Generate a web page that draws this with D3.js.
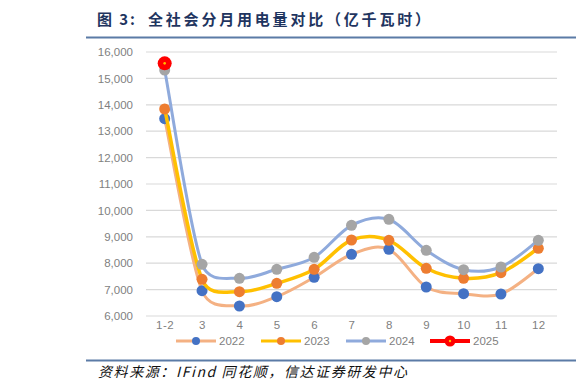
<!DOCTYPE html>
<html><head><meta charset="utf-8">
<script src="https://cdn.jsdelivr.net/npm/d3@7"></script>
<style>
html,body{margin:0;padding:0;background:#fff;}
svg{display:block;}
</style></head>
<body>
<svg id="c" width="588" height="391"></svg>
<script>
const categories = ["1-2","3","4","5","6","7","8","9","10","11","12"];
const seriesNames = ["2022","2023","2024","2025"];
const values2022 = [13474,6958,6379,6731,7466,8337,8526,7098,6845,6833,7792];
const values2023 = [13841,7390,6921,7237,7768,8879,8867,7807,7428,7642,8564];
const values2024 = [15318,7958,7428,7769,8223,9436,9663,8489,7754,7856,8867];
const values2025 = [15571];
const yTicks = [6000,7000,8000,9000,10000,11000,12000,13000,14000,15000,16000];
const titleLabel = "图 3:";
const titleText = "全社会分月用电量对比（亿千瓦时）";
const sourceText = "资料来源：IFind 同花顺，信达证券研发中心";

const series = [
  {name:"2022", values: values2022, line:"#F4B183", marker:"#4472C4", lw:3, r:5.5},
  {name:"2023", values: values2023, line:"#FFC000", marker:"#ED7D31", lw:3.5, r:5.5},
  {name:"2024", values: values2024, line:"#8FAADC", marker:"#A5A5A5", lw:3, r:5.5},
  {name:"2025", values: values2025, line:"#FF0000", marker:"#FF0000", lw:4, r:7, dot:"#FFC000"}
];

// Excel-like smoothed curve: Catmull-Rom tangents (1/6), clamped to half of each segment
function excelSmooth(context) {
  let pts = [];
  return {
    areaStart(){}, areaEnd(){},
    lineStart(){ pts = []; },
    point(x, y){ pts.push([+x, +y]); },
    lineEnd(){
      const n = pts.length;
      if (!n) return;
      context.moveTo(pts[0][0], pts[0][1]);
      if (n === 1) return;
      const tan = pts.map((p, i) => {
        const a = pts[Math.max(0, i - 1)], b = pts[Math.min(n - 1, i + 1)];
        return [(b[0] - a[0]) / 6, (b[1] - a[1]) / 6];
      });
      const clamp = (t, segLen) => {
        const l = Math.hypot(t[0], t[1]), m = 0.5 * segLen;
        return l > m && l > 0 ? [t[0] * m / l, t[1] * m / l] : t;
      };
      for (let i = 0; i < n - 1; i++) {
        const p = pts[i], q = pts[i + 1];
        const len = Math.hypot(q[0] - p[0], q[1] - p[1]);
        const t1 = clamp(tan[i], len), t2 = clamp(tan[i + 1], len);
        context.bezierCurveTo(p[0] + t1[0], p[1] + t1[1], q[0] - t2[0], q[1] - t2[1], q[0], q[1]);
      }
    }
  };
}

const svg = d3.select("#c");
const x = d3.scalePoint().domain(categories).range([146,557]).padding(0.5);
const y = d3.scaleLinear().domain([6000,16000]).range([316,52]);

// title
svg.append("text").attr("x",97).attr("y",24.5)
  .attr("font-family","'Noto Sans CJK SC', sans-serif").attr("font-weight","bold")
  .attr("font-size",15).attr("fill","#1F3560")
  .attr("textLength",38).attr("lengthAdjust","spacing")
  .text(titleLabel);
svg.append("text").attr("x",148).attr("y",24.5)
  .attr("font-family","'Noto Sans CJK SC', sans-serif").attr("font-weight","bold")
  .attr("font-size",15).attr("fill","#1F3560")
  .attr("textLength",282).attr("lengthAdjust","spacing")
  .text(titleText);
svg.append("line").attr("x1",86).attr("x2",576).attr("y1",37.5).attr("y2",37.5)
  .attr("stroke","#5B7BA6").attr("stroke-width",2);

// grid
svg.append("g").selectAll("line").data(yTicks).join("line")
  .attr("x1",146).attr("x2",557).attr("y1",d=>y(d)).attr("y2",d=>y(d))
  .attr("stroke","#D9D9D9").attr("stroke-width",1.2);

// y axis
const yAxis = d3.axisLeft(y).tickValues(yTicks).tickSize(0).tickPadding(0)
  .tickFormat(d3.format(","));
const gy = svg.append("g").attr("transform","translate(133,0)").call(yAxis);
gy.select(".domain").remove();
gy.selectAll("text").attr("font-family","'Liberation Sans', Arial, sans-serif")
  .attr("font-size",11.5).attr("fill","#7F7F7F");

// x axis
const xAxis = d3.axisBottom(x).tickSize(0).tickPadding(0);
const gx = svg.append("g").attr("transform","translate(0,321)").call(xAxis);
gx.select(".domain").remove();
gx.selectAll("text").attr("font-family","'Liberation Sans', Arial, sans-serif")
  .attr("font-size",11.5).attr("fill","#7F7F7F").attr("letter-spacing",0.5);

// series
const lineGen = d3.line().x((d,i)=>x(categories[i])).y(d=>y(d)).curve(excelSmooth);
series.forEach(s=>{
  const g = svg.append("g");
  if (s.values.length>1) {
    g.append("path").attr("d",lineGen(s.values)).attr("fill","none")
      .attr("stroke",s.line).attr("stroke-width",s.lw).attr("stroke-linejoin","round").attr("stroke-linecap","round");
  }
  g.selectAll("circle.m").data(s.values).join("circle").attr("class","m")
    .attr("cx",(d,i)=>x(categories[i])).attr("cy",d=>y(d)).attr("r",s.r).attr("fill",s.marker);
  if (s.dot) {
    g.selectAll("circle.d").data(s.values).join("circle").attr("class","d")
      .attr("cx",(d,i)=>x(categories[i])).attr("cy",d=>y(d)).attr("r",1.3).attr("fill",s.dot);
  }
});

// legend
const legX = [176,261,346,430];
const lg = svg.append("g").attr("transform","translate(0,341)");
series.forEach((s,i)=>{
  const gi = lg.append("g").attr("transform",`translate(${legX[i]},0)`);
  gi.append("line").attr("x1",0).attr("x2",40).attr("y1",0).attr("y2",0)
    .attr("stroke",s.line).attr("stroke-width",s.name==="2025"?4:3);
  gi.append("circle").attr("cx",20).attr("cy",0).attr("r",s.name==="2025"?5.5:4).attr("fill",s.marker);
  if (s.dot) gi.append("circle").attr("cx",20).attr("cy",0).attr("r",1.2).attr("fill",s.dot);
  gi.append("text").attr("x",43).attr("y",4).attr("font-family","'Liberation Sans', Arial, sans-serif")
    .attr("font-size",11.5).attr("fill","#7F7F7F").text(s.name);
});

// bottom line & source
svg.append("line").attr("x1",86).attr("x2",576).attr("y1",360.5).attr("y2",360.5)
  .attr("stroke","#5B7BA6").attr("stroke-width",2);
svg.append("text").attr("x",98).attr("y",376.5)
  .attr("font-family","'Noto Sans CJK SC', sans-serif").attr("font-style","italic")
  .attr("font-size",14).attr("fill","#111")
  .attr("textLength",309).attr("lengthAdjust","spacing")
  .text(sourceText);
</script>
</body></html>
